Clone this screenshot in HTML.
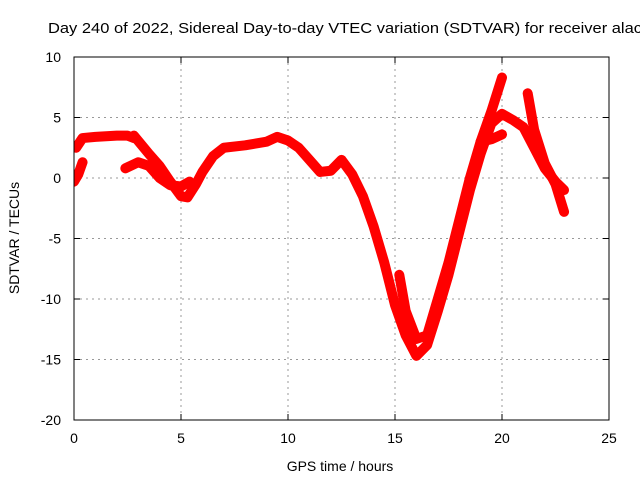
<!DOCTYPE html>
<html><head><meta charset="utf-8"><style>
body{margin:0;background:#fff;width:640px;height:480px;overflow:hidden}
svg text{font-family:"Liberation Sans",sans-serif;font-size:14px;fill:#000}
</style></head><body>
<svg id="chart" width="640" height="480" xmlns="http://www.w3.org/2000/svg">
<text x="48" y="33" style="font-size:15px" textLength="594" lengthAdjust="spacingAndGlyphs">Day 240 of 2022, Sidereal Day-to-day VTEC variation (SDTVAR) for receiver alac</text>
<g id="grid"></g>
<g id="series" clip-path="url(#clip)"></g>
<clipPath id="clip"><rect x="74" y="57" width="535" height="363"/></clipPath>
<rect x="74" y="57" width="535" height="363" fill="none" stroke="#000" stroke-width="1"/>
<text x="340" y="471" text-anchor="middle">GPS time / hours</text>
<text transform="translate(19,238) rotate(-90)" text-anchor="middle">SDTVAR / TECUs</text>
</svg>
<script>
const xTicks=[0,5,10,15,20,25];
const yTicks=[-20,-15,-10,-5,0,5,10];
const bandA=[[2.8,3.5],[3.5,2],[4,1],[4.5,-0.3],[5,-1.5],[5.3,-1.6],[5.7,-0.5],[6,0.5],[6.5,1.8],[7,2.5],[8,2.7],[9,3],[9.5,3.4],[10,3.1],[10.5,2.5],[11,1.5],[11.5,0.5],[12,0.6],[12.5,1.5],[13,0.3],[13.5,-1.5],[14,-4],[14.5,-7],[15,-10.5],[15.5,-13],[16,-14.7],[16.5,-13.8],[17,-11],[17.5,-8],[18,-4.5],[18.5,-1],[19,2],[19.5,4.5],[20,5.3],[20.5,4.8],[21,4.2],[21.5,2.5],[22,0.8],[22.5,-0.3],[22.9,-1]];
const bandTop=[[0.1,2.5],[0.4,3.3],[1,3.4],[2,3.5],[2.5,3.5],[2.8,3.3]];
const bandLow=[[2.4,0.8],[3,1.3],[3.5,1.0],[4,0],[4.5,-0.6],[5,-0.7],[5.4,-0.3]];
const bandLeft=[[0,-0.3],[0.2,0.3],[0.4,1.3]];
const bandB=[[15.2,-8],[15.5,-11],[16,-13.3],[16.5,-13],[17,-10],[17.5,-7],[18,-3.5],[18.5,0],[19,3],[19.5,5.5],[20,8.3]];
const bandC=[[19,3],[19.5,3.2],[20,3.6]];
const bandD=[[21.2,7],[21.5,4],[22,1.2],[22.5,-0.5],[22.9,-2.8]];
const NS='http://www.w3.org/2000/svg';
const X=v=>74+v*535/25, Y=v=>57+(10-v)*363/30;
const grid=document.getElementById('grid'), ser=document.getElementById('series'), svg=document.getElementById('chart');
function mk(t,a,p){const e=document.createElementNS(NS,t);for(const k in a)e.setAttribute(k,a[k]);p.appendChild(e);return e;}
xTicks.forEach(t=>{
 if(t>0&&t<25){const l=mk('line',{x1:X(t),x2:X(t),y1:57,y2:420,stroke:'#999','stroke-dasharray':'2,4'},grid);
 
 }
 mk('line',{x1:X(t),x2:X(t),y1:420,y2:414,stroke:'#000'},grid);
 mk('line',{x1:X(t),x2:X(t),y1:57,y2:63,stroke:'#000'},grid);
 const tx=mk('text',{x:X(t),y:443,'text-anchor':'middle'},svg);tx.textContent=t;
 
 
});
yTicks.forEach(t=>{
 if(t>-20&&t<10){const l=mk('line',{x1:74,x2:609,y1:Y(t),y2:Y(t),stroke:'#999','stroke-dasharray':'2,4'},grid);
 
 }
 mk('line',{x1:74,x2:80,y1:Y(t),y2:Y(t),stroke:'#000'},grid);
 mk('line',{x1:603,x2:609,y1:Y(t),y2:Y(t),stroke:'#000'},grid);
 const tx=mk('text',{x:61,y:Y(t)+5,'text-anchor':'end'},svg);tx.textContent=t;
 
 
});
[bandA,bandTop,bandLow,bandLeft,bandB,bandC,bandD].forEach(b=>{
 const p=mk('polyline',{points:b.map(d=>X(d[0])+','+Y(d[1])).join(' '),fill:'none',stroke:'#f00','stroke-width':10,'stroke-linejoin':'round','stroke-linecap':'round'},ser);
 
 
});
</script>
</body></html>
